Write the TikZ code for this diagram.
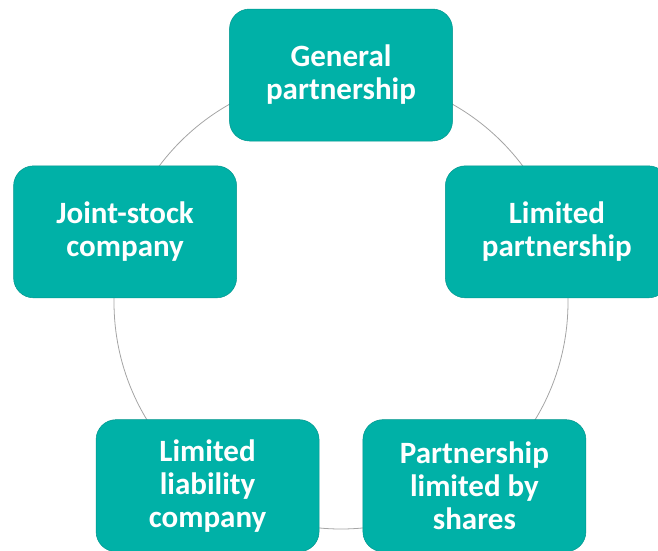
\documentclass[tikz,border=0pt]{standalone}
\usepackage{fontspec}
\setmainfont{Carlito}
\definecolor{tealbox}{RGB}{0,177,167}
\definecolor{ringgray}{RGB}{165,165,165}
\tikzset{
  formbox/.style={draw=tealbox!85!black, line width=0.5pt, fill=tealbox, rounded corners=20pt,
    minimum width=223pt, minimum height=132pt, align=center, text=white,
    font=\fontsize{31}{33}\selectfont\bfseries}
}
\begin{document}
\begin{tikzpicture}[x=1pt,y=1pt]
  \useasboundingbox (-341,-248) rectangle (317,302);
  \draw[ringgray, line width=0.8pt] (0,0) circle (227);

  \node[formbox] (general) at (90:227) {General\\partnership};
  \node[formbox] (limited) at (18:227) {Limited\\partnership};
  \node[formbox] (shares) at (-54:227) {Partnership\\limited by\\shares};
  \node[formbox] (llc) at (234:227) {Limited\\liability\\company};
  \node[formbox] (jsc) at (162:227) {Joint-stock\\company};
\end{tikzpicture}
\end{document}
